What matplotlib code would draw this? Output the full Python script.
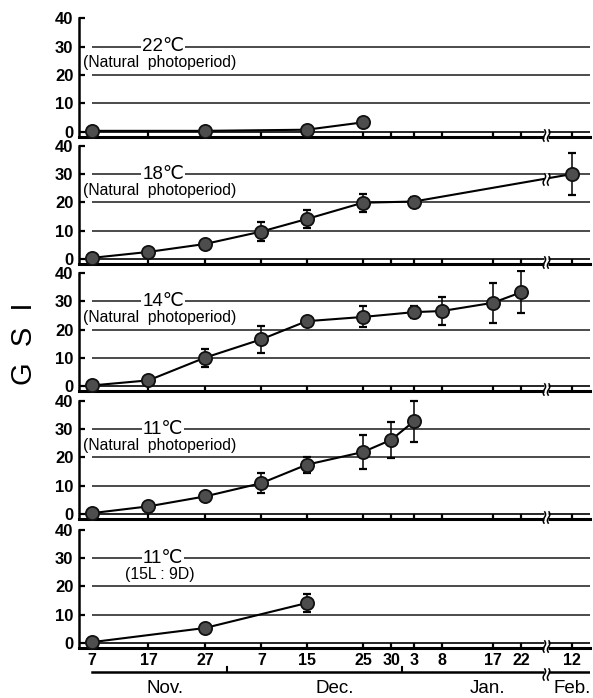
import numpy as np
import pandas as pd
import matplotlib
matplotlib.use('Agg')
import matplotlib.pyplot as plt
from matplotlib.path import Path

plt.rcParams['font.family'] = ['Liberation Sans', 'DejaVu Sans', 'Noto Sans CJK JP']

# x axis: sampling dates (axis is broken between Jan 22 and Feb 12)
start_date = '1990-11-07'
tick_dates = ['1990-11-07', '1990-11-17', '1990-11-27', '1990-12-07', '1990-12-15',
              '1990-12-25', '1990-12-30', '1991-01-03', '1991-01-08', '1991-01-17',
              '1991-01-22', '1991-02-12']
tick_labels = ['7', '17', '27', '7', '15', '25', '30', '3', '8', '17', '22', '12']
months = ['Nov.', 'Dec.', 'Jan.', 'Feb.']
month_label_dates = ['1990-11-20', '1990-12-20', '1991-01-16', '1991-02-12']
month_starts = ['1990-12-01', '1991-01-01']
skip_days = 12          # days cut out by the axis break
break_after = 76        # last day before the break
break_x = 80.5

# panel texts
panel_temps = ['22℃', '18℃', '14℃', '11℃', '11℃']
panel_notes = ['(Natural  photoperiod)'] * 4 + ['(15L : 9D)']

# GSI (mean, SD) per rearing condition
d22 = ['1990-11-07', '1990-11-27', '1990-12-15', '1990-12-25']
gsi22 = [0.3, 0.3, 0.7, 3.3]
sd22 = [0, 0, 0, 0]

d18 = ['1990-11-07', '1990-11-17', '1990-11-27', '1990-12-07', '1990-12-15',
       '1990-12-25', '1991-01-03', '1991-02-12']
gsi18 = [0.4, 2.5, 5.3, 9.7, 14.1, 19.9, 20.3, 30.0]
sd18 = [0, 0, 0, 3.3, 3.2, 3.2, 1.6, 7.3]

d14 = ['1990-11-07', '1990-11-17', '1990-11-27', '1990-12-07', '1990-12-15',
       '1990-12-25', '1991-01-03', '1991-01-08', '1991-01-17', '1991-01-22']
gsi14 = [0.3, 2.1, 10.1, 16.6, 23.0, 24.5, 26.2, 26.6, 29.5, 33.2]
sd14 = [0, 0, 3.2, 4.8, 0.8, 3.7, 2.2, 4.9, 7.1, 7.4]

d11 = ['1990-11-07', '1990-11-17', '1990-11-27', '1990-12-07', '1990-12-15',
       '1990-12-25', '1990-12-30', '1991-01-03']
gsi11 = [0.3, 2.7, 6.2, 10.9, 17.4, 21.9, 26.2, 32.7]
sd11 = [0, 0, 0, 3.6, 2.8, 5.9, 6.4, 7.2]

d11s = ['1990-11-07', '1990-11-27', '1990-12-15']
gsi11s = [0.3, 5.3, 14.1]
sd11s = [0, 0, 3.2]

panels = [(d22, gsi22, sd22), (d18, gsi18, sd18), (d14, gsi14, sd14),
          (d11, gsi11, sd11), (d11s, gsi11s, sd11s)]


def to_x(dates):
    """Days since the first sampling, with the broken part of the axis removed."""
    days = (pd.to_datetime(dates) - pd.Timestamp(start_date)).days.values.astype(float)
    return np.where(days > break_after, days - skip_days, days)


def squiggle_path():
    t = np.linspace(-0.5, 0.5, 15)
    verts, codes = [], []
    for off in (-0.17, 0.17):
        xs = off + 0.1 * np.sin(2 * np.pi * t)
        for j, (a, b) in enumerate(zip(xs, t)):
            verts.append((a, b))
            codes.append(Path.MOVETO if j == 0 else Path.LINETO)
    return Path(verts, codes)


gap_path = Path([(-0.2, -0.5), (0.2, -0.5), (0.2, 0.5), (-0.2, 0.5), (-0.2, -0.5)],
                [Path.MOVETO, Path.LINETO, Path.LINETO, Path.LINETO, Path.CLOSEPOLY])
brk_path = squiggle_path()


def draw_break(ax, x, y):
    ax.plot([x], [y], marker=gap_path, ms=8, mfc='white', mec='none', ls='none',
            clip_on=False, zorder=6)
    ax.plot([x], [y], marker=brk_path, ms=9, mfc='none', mec='black', mew=1.1,
            ls='none', clip_on=False, zorder=7)


W, H = 593, 698
fig = plt.figure(figsize=(W / 100, H / 100), dpi=100)

# layout (pixels)
left_px, right_px, x0_px, px_per_day = 79, 590, 92, 5.645
zeros_px = [131.7, 259.0, 386.3, 514.0, 643.0]
px_per_unit = 2.83
ylo, yhi = -1.7, 41
xlim = (-(x0_px - left_px) / px_per_day, (right_px - x0_px) / px_per_day)

xt = to_x(tick_dates)

for i, z in enumerate(zeros_px):
    top = z - yhi * px_per_unit
    bottom = z - ylo * px_per_unit
    ax = fig.add_axes([left_px / W, 1 - bottom / H, (right_px - left_px) / W, (bottom - top) / H])
    ax.set_xlim(*xlim)
    ax.set_ylim(ylo, yhi)
    ax.patch.set_visible(False)

    for s in ('top', 'right'):
        ax.spines[s].set_visible(False)
    ax.spines['left'].set_bounds(ylo, 40)
    ax.spines['left'].set_linewidth(1.8)
    ax.spines['bottom'].set_linewidth(2.2)

    ax.set_yticks([0, 10, 20, 30, 40])
    ax.tick_params(axis='y', direction='in', length=4.5, width=1.6, pad=4,
                   labelsize=12)
    for lab in ax.get_yticklabels():
        lab.set_fontweight('bold')

    ax.set_xticks(xt)
    ax.tick_params(axis='x', direction='in', length=3.5, width=1.6, pad=3.5, labelsize=11.5)
    if i == len(zeros_px) - 1:
        ax.set_xticklabels(tick_labels, fontweight='bold')
    else:
        ax.set_xticklabels([])

    # grid lines and the upper rail of the x axis
    ax.hlines([10, 20, 30], 0, xlim[1], colors='#1a1a1a', lw=1.1, zorder=1)
    ax.axhline(0, color='black', lw=1.2, zorder=2)
    draw_break(ax, break_x, -1.1)

    ax.text(12.6, 30, panel_temps[i], fontsize=13.5, ha='center', va='center',
            bbox=dict(boxstyle='square,pad=0.05', fc='white', ec='none'), zorder=3)
    ax.text(12.0, 24.3, panel_notes[i], fontsize=11.3, ha='center', va='center', zorder=3)

    dates, gsi, sd = panels[i]
    x = to_x(dates)
    gsi = np.array(gsi)
    sd = np.array(sd)
    ax.plot(x, gsi, color='black', lw=1.5, zorder=4, clip_on=False)
    m = sd > 0
    ax.errorbar(x[m], gsi[m], yerr=sd[m], fmt='none', ecolor='black', elinewidth=1.1,
                capsize=3, capthick=1.6, zorder=4)
    ax.plot(x, gsi, 'o', ms=9.5, mfc='#4d4d4d', mec='#111111', mew=1.3, zorder=5,
            clip_on=False)
    if x.max() > break_x:
        draw_break(ax, break_x, np.interp(break_x, x, gsi))

# month bar underneath
mon = fig.add_axes([left_px / W, 0, (right_px - left_px) / W, 48 / H])
mon.set_xlim(*xlim)
mon.set_ylim(0, 1)
mon.axis('off')
mon.plot([0, xlim[1]], [0.54, 0.54], color='black', lw=1.8)
for xb in to_x(month_starts):
    mon.plot([xb, xb], [0.54, 0.65], color='black', lw=1.5)
for name, xm in zip(months, to_x(month_label_dates)):
    mon.text(xm, 0.2, name, fontsize=13.5, ha='center', va='center')
draw_break(mon, break_x, 0.5)

fig.text(24 / W, 1 - 344 / H, 'G  S  I', rotation=90, fontsize=21, ha='center', va='center')

fig.savefig('out.png', dpi=100)
